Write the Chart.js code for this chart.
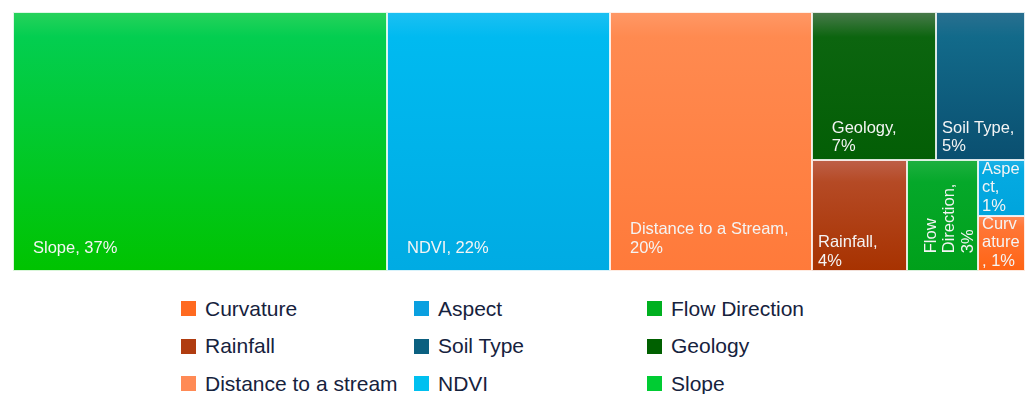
<!DOCTYPE html>
<html>
<head>
<meta charset="utf-8">
<title>Factor treemap</title>
<script src="https://cdn.jsdelivr.net/npm/chart.js@4.4.1/dist/chart.umd.min.js"></script>
<style>
    body { margin: 0; background: #fff; font-family: "Liberation Sans", Arial, sans-serif; }
    #wrap { position: relative; width: 1027px; height: 394px; }
    #treemap-box { position: absolute; left: 0; top: 0; width: 1027px; height: 282px; }
    #legend {
        position: absolute; left: 181px; top: 290px;
        display: grid; grid-template-columns: 233px 233px 233px; grid-auto-rows: 37.5px;
    }
    .legend-item { display: flex; align-items: center; font-size: 21px; color: #16223d; white-space: nowrap; }
    .legend-swatch { width: 15px; height: 15px; margin-right: 9px; flex: none; }
</style>
</head>
<body>
<div id="wrap">
    <div id="treemap-box"><canvas id="treemap"></canvas></div>
    <div id="legend"></div>
</div>
<script>
// Share of each factor, in percent
const categories = ['Slope', 'NDVI', 'Distance to a Stream', 'Geology', 'Soil Type', 'Rainfall', 'Flow Direction', 'Aspect', 'Curvature'];
const values = [37, 22, 20, 7, 5, 4, 3, 1, 1];
const legendLabels = ['Slope', 'NDVI', 'Distance to a stream', 'Geology', 'Soil Type', 'Rainfall', 'Flow Direction', 'Aspect', 'Curvature'];

// Cell fills (vertical gradient: top, upper band, bottom) and legend swatches
const fillTop = ['#28d25c', '#1cc0f2', '#ff9866', '#4a7a4c', '#2a7090', '#be6048', '#1eb040', '#20b2e6', '#ff8a58'];
const fillMid = ['#03ce50', '#00baf0', '#ff8a50', '#0c650f', '#126a8a', '#b54a25', '#05a82a', '#05aae2', '#ff7636'];
const fillBottom = ['#00c300', '#00abe3', '#ff7a3a', '#035e05', '#0a4f70', '#a73200', '#00a01a', '#00a4dc', '#ff6414'];
const swatchColors = ['#00cc33', '#00c0f0', '#ff8a55', '#006000', '#0b6080', '#b03c10', '#00b020', '#0aa0e0', '#ff6a20'];

const FONT = '16.5px "Liberation Sans", Arial, sans-serif';
const LINE_H = 18.5;

function clamp(v, lo, hi) {
    return Math.max(lo, Math.min(hi, v));
}

// Squarified treemap layout in axis units (0-100 on both axes).
// sx / sy convert axis units to pixels so aspect ratios are judged on screen.
function squarify(items, x, y, w, h, sx, sy, out) {
    if (!items.length) return;
    const vertical = w * sx >= h * sy;

    function worst(row) {
        const sum = row.reduce((s, it) => s + it.area, 0);
        let r = 0;
        row.forEach(it => {
            let cw, ch;
            if (vertical) { cw = sum / h; ch = it.area / cw; }
            else { ch = sum / w; cw = it.area / ch; }
            const a = (cw * sx) / (ch * sy);
            r = Math.max(r, a, 1 / a);
        });
        return r;
    }

    let row = [items[0]];
    let best = worst(row);
    let i = 1;
    while (i < items.length) {
        const trial = row.concat(items[i]);
        const r = worst(trial);
        if (r > best) break;
        row = trial;
        best = r;
        i++;
    }

    const rowArea = row.reduce((s, it) => s + it.area, 0);
    if (vertical) {
        const cw = rowArea / h;
        let cy = y;
        row.forEach(it => {
            const ch = it.area / cw;
            out.push(Object.assign({}, it, { x: x, y: cy, w: cw, h: ch }));
            cy += ch;
        });
        squarify(items.slice(i), x + cw, y, w - cw, h, sx, sy, out);
    } else {
        const rh = rowArea / w;
        let cx = x;
        row.forEach(it => {
            const cw = it.area / rh;
            out.push(Object.assign({}, it, { x: cx, y: y, w: cw, h: rh }));
            cx += cw;
        });
        squarify(items.slice(i), x, y + rh, w, h - rh, sx, sy, out);
    }
}

// Word wrap, breaking words letter by letter when they don't fit
function wrapText(ctx, text, maxW) {
    const lines = [];
    let line = '';
    text.split(' ').forEach(word => {
        const test = line ? line + ' ' + word : word;
        if (ctx.measureText(test).width <= maxW) {
            line = test;
            return;
        }
        if (line && ctx.measureText(word).width <= maxW) {
            lines.push(line);
            line = word;
            return;
        }
        if (line) lines.push(line);
        let part = '';
        for (const ch of word) {
            if (part && ctx.measureText(part + ch).width > maxW) {
                lines.push(part);
                part = ch;
            } else {
                part += ch;
            }
        }
        line = part;
    });
    if (line) lines.push(line);
    return lines;
}

// Label sits in the lower-left corner of its box
function drawLabel(ctx, text, bw, bh) {
    const padX = bw >= 110 ? clamp(bw * 0.16, 5, 20) : (bw >= 60 ? 6 : 4);
    const padB = clamp(bh * 0.09, 10, 23);
    const lines = wrapText(ctx, text, bw - 2 * padX);
    const lastY = bh - padB;
    lines.forEach((ln, k) => {
        ctx.fillText(ln, padX, lastY - (lines.length - 1 - k) * LINE_H);
    });
}

const treemapPlugin = {
    id: 'treemapCells',
    afterDatasetsDraw(chart) {
        const ctx = chart.ctx;
        const xs = chart.scales.x, ys = chart.scales.y;
        const area = chart.chartArea;
        const sx = (area.right - area.left) / 100;
        const sy = (area.bottom - area.top) / 100;
        const total = values.reduce((a, b) => a + b, 0);

        const items = categories.map((name, i) => ({
            name: name, value: values[i], index: i,
            area: values[i] / total * 100 * 100
        })).sort((a, b) => b.value - a.value);

        const cells = [];
        squarify(items, 0, 0, 100, 100, sx, sy, cells);

        cells.forEach(c => {
            const left = Math.round(xs.getPixelForValue(c.x));
            const right = Math.round(xs.getPixelForValue(c.x + c.w));
            const top = Math.round(ys.getPixelForValue(c.y));
            const bottom = Math.round(ys.getPixelForValue(c.y + c.h));
            const w = right - left, h = bottom - top;

            const grad = ctx.createLinearGradient(0, top, 0, bottom);
            grad.addColorStop(0, fillTop[c.index]);
            grad.addColorStop(Math.min(0.2, 25 / h), fillMid[c.index]);
            grad.addColorStop(1, fillBottom[c.index]);
            ctx.save();
            ctx.fillStyle = grad;
            ctx.fillRect(left, top, w, h);
            ctx.strokeStyle = 'rgba(255,255,255,0.85)';
            ctx.lineWidth = 1;
            ctx.strokeRect(left + 0.5, top + 0.5, w - 1, h - 1);

            // label text, rotated for tall narrow cells
            ctx.beginPath();
            ctx.rect(left, top, w, h);
            ctx.clip();
            ctx.font = FONT;
            ctx.fillStyle = '#f4f4f4';
            ctx.textBaseline = 'middle';
            ctx.textAlign = 'left';
            const label = c.name + ', ' + c.value + '%';
            if (w < 80 && h > 1.4 * w) {
                ctx.translate(left, bottom);
                ctx.rotate(-Math.PI / 2);
                drawLabel(ctx, label, h, w);
            } else {
                ctx.translate(left, top);
                drawLabel(ctx, label, w, h);
            }
            ctx.restore();
        });
    }
};

new Chart(document.getElementById('treemap').getContext('2d'), {
    type: 'scatter',
    data: { datasets: [] },
    options: {
        responsive: true,
        maintainAspectRatio: false,
        animation: false,
        layout: { padding: { left: 13, right: 2, top: 12, bottom: 11 } },
        scales: {
            x: { type: 'linear', min: 0, max: 100, display: false },
            y: { type: 'linear', min: 0, max: 100, reverse: true, display: false }
        },
        plugins: {
            legend: { display: false },
            tooltip: { enabled: false }
        }
    },
    plugins: [treemapPlugin]
});

// Legend: smallest share first, three per row
const legendEl = document.getElementById('legend');
categories.map((_, i) => i)
    .sort((a, b) => values[a] - values[b] || b - a)
    .forEach(i => {
        const item = document.createElement('div');
        item.className = 'legend-item';
        item.innerHTML = '<span class="legend-swatch" style="background:' + swatchColors[i] + '"></span>' + legendLabels[i];
        legendEl.appendChild(item);
    });
</script>
</body>
</html>
